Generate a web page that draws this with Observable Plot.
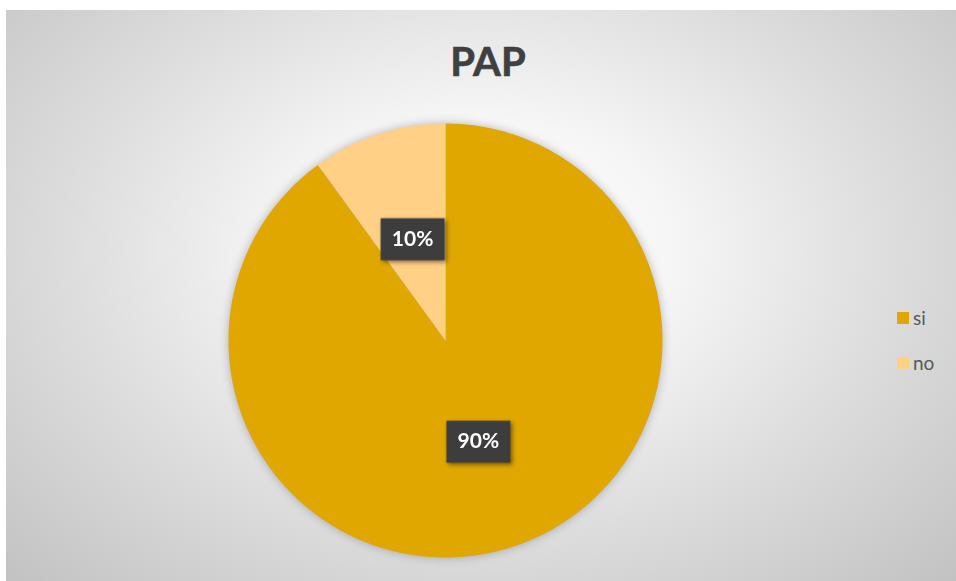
<!DOCTYPE html>
<html>
<head>
<meta charset="utf-8">
<script src="https://cdn.jsdelivr.net/npm/d3@7"></script>
<script src="https://cdn.jsdelivr.net/npm/@observablehq/plot@0.6"></script>
<style>
  body { margin: 0; background: #ffffff; }
  #wrap { position: relative; width: 956px; height: 581px; overflow: hidden; background: #ffffff; font-family: Lato, "Open Sans", sans-serif; }
  #bg { position: absolute; left: 6px; top: 10px; width: 950px; height: 571px;
        background: radial-gradient(ellipse farthest-corner at 50% 42%, #ffffff 0%, #f6f6f6 28%, #dedede 60%, #c2c2c2 100%); }
  #chart { position: absolute; left: 0; top: 0; }
  #title { position: absolute; left: 388px; width: 200px; top: 41px; text-align: center; font-size: 40px; line-height: 40px; font-weight: 700; color: #404040; -webkit-text-stroke: 0.6px #404040; }
  .leg { position: absolute; left: 897px; display: flex; align-items: center; height: 20px; font-size: 19px; line-height: 20px; color: #595959; }
  .leg .sw { width: 12px; height: 12px; margin-right: 4px; }
</style>
</head>
<body>
<div id="wrap">
  <div id="bg"></div>
  <div id="chart"></div>
  <div id="title"></div>
</div>
<script>
const title = "PAP";
const categories = ["si", "no"];
const values = [90, 10];
const labels = ["90%", "10%"];
const colors = ["#DFA700", "#FFD085"];

const arcs = d3.pie().sort(null).value(d => d)(values);

// slice polygons in unit-circle coordinates (clockwise from 12 o'clock)
const slices = [];
arcs.forEach((a, i) => {
  const name = categories[i];
  slices.push({name, x: 0, y: 0});
  const n = Math.max(2, Math.ceil((a.endAngle - a.startAngle) / (Math.PI / 180)));
  for (let k = 0; k <= n; k++) {
    const t = a.startAngle + (a.endAngle - a.startAngle) * k / n;
    slices.push({name, x: Math.sin(t), y: Math.cos(t)});
  }
  slices.push({name, x: 0, y: 0});
});

const labelPos = arcs.map((a, i) => {
  const m = (a.startAngle + a.endAngle) / 2;
  return {name: categories[i], label: labels[i], x: 0.49 * Math.sin(m), y: 0.49 * Math.cos(m)};
});

const boxSymbol = { draw(ctx) { ctx.rect(-32, -21, 64, 42); } };

const svg = Plot.plot({
  width: 956,
  height: 581,
  margin: 0,
  style: { background: "transparent", overflow: "visible" },
  x: { domain: [-1, 1], range: [228, 662], axis: null },
  y: { domain: [-1, 1], range: [557, 123], axis: null },
  color: { domain: categories, range: colors },
  marks: [
    Plot.line(slices, { x: "x", y: "y", z: "name", fill: "name", stroke: "none", curve: "linear" }),
    Plot.dot(labelPos, { x: "x", y: "y", symbol: boxSymbol, fill: "#3d3d3d", stroke: "none" }),
    Plot.text(labelPos, { x: "x", y: "y", text: "label", fill: "#ffffff", fontSize: 21, fontWeight: 700, fontFamily: "Lato, 'Open Sans', sans-serif" })
  ]
});
d3.select(svg).select('g[aria-label="line"]').style("filter", "drop-shadow(0px 0px 5px rgba(60,60,90,0.35))");
d3.select(svg).select('g[aria-label="dot"]').style("filter", "drop-shadow(2px 2px 2px rgba(0,0,0,0.45))");
document.getElementById("chart").appendChild(svg);
document.getElementById("title").textContent = title;

const wrap = document.getElementById("wrap");
categories.forEach((c, i) => {
  const item = document.createElement("div");
  item.className = "leg";
  item.style.top = (308 + i * 45) + "px";
  const sw = document.createElement("div");
  sw.className = "sw";
  sw.style.background = colors[i];
  const tx = document.createElement("span");
  tx.textContent = c;
  item.appendChild(sw);
  item.appendChild(tx);
  wrap.appendChild(item);
});
</script>
</body>
</html>
